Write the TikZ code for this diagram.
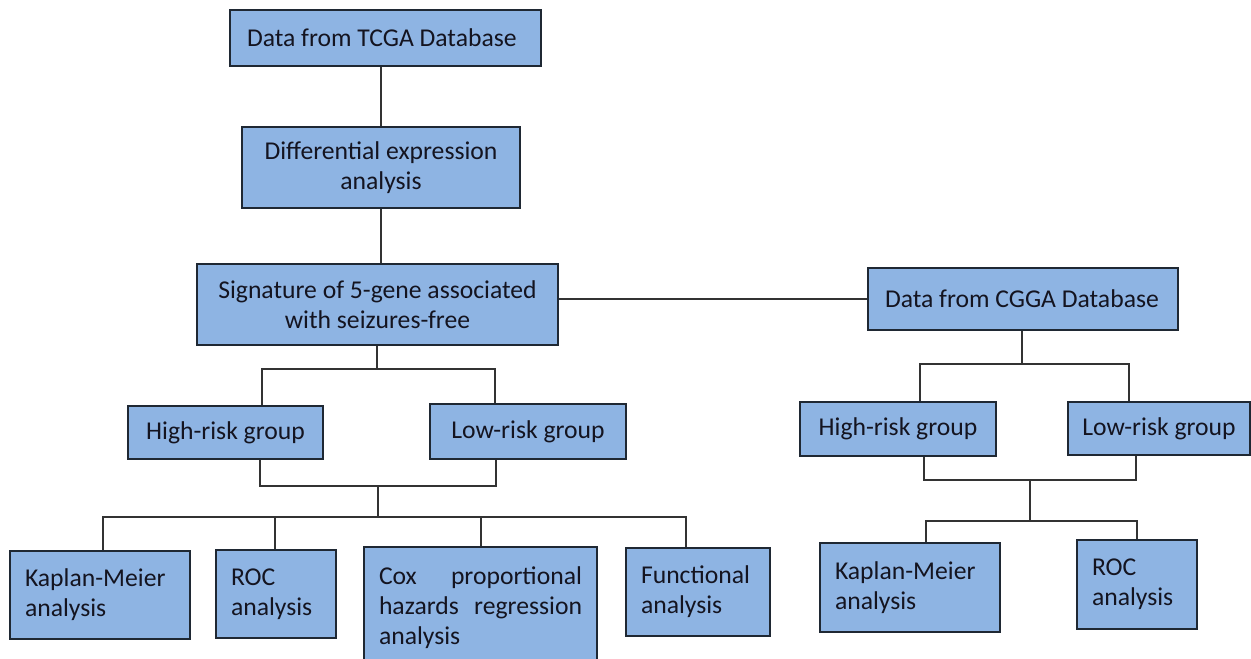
\documentclass[tikz,border=0pt]{standalone}
\usepackage{fontspec}
\setmainfont{Carlito}
\usepackage{xcolor}
\usetikzlibrary{positioning}
\definecolor{boxfill}{HTML}{8EB4E3}
\definecolor{boxline}{HTML}{1F2833}
\definecolor{linkline}{HTML}{333333}
\definecolor{boxtext}{HTML}{141420}
\tikzset{%
	block/.style    = {draw=boxline, line width=1pt, fill=boxfill, rectangle, text=boxtext, font=\fontsize{14.6}{17}\selectfont},
	cblock/.style   = {block, align=center},
	lblock/.style   = {block, align=flush left, inner xsep=0.3cm},
	link/.style     = {draw=linkline, line width=1.1pt},
	waypoint/.style = {coordinate},
}

\begin{document}
\begin{tikzpicture}[x=0.02cm,y=-0.02cm]
	\useasboundingbox (0,0) rectangle (1251,659);
	% left branch
	\node [lblock,text width=5.54cm,minimum height=1.12cm,inner xsep=0.34cm] (tcga) at (385.5,38) {Data from TCGA Database};
	\node [cblock,minimum width=5.56cm,minimum height=1.62cm] (diff) at (381,167.5) {Differential expression\\analysis};
	\node [cblock,minimum width=7.22cm,minimum height=1.62cm] (sig) at (377.5,304.5) {Signature of 5-gene associated\\with seizures-free};
	\node [cblock,minimum width=3.9cm,minimum height=1.06cm] (hiL) at (225.5,432.5) {High-risk group};
	\node [cblock,minimum width=3.92cm,minimum height=1.1cm] (loL) at (528,431.5) {Low-risk group};
	\node [lblock,text width=3.0cm,minimum height=1.76cm] (kmL) at (100,595) {Kaplan-Meier\\analysis};
	\node [lblock,text width=1.8cm,minimum height=1.76cm] (rocL) at (276,594) {ROC\\analysis};
	\node [lblock,text width=4.06cm,minimum height=2.44cm] (cox) at (480.5,608) {Cox\hfill proportional\\hazards\hfill regression\\analysis};
	\node [lblock,text width=2.28cm,minimum height=1.76cm] (fun) at (698,592) {Functional\\analysis};
	% right branch
	\node [lblock,text width=5.52cm,minimum height=1.24cm,inner xsep=0.34cm] (cgga) at (1023,299) {Data from CGGA Database};
	\node [cblock,minimum width=3.92cm,minimum height=1.08cm] (hiR) at (898,429) {High-risk group};
	\node [cblock,minimum width=3.64cm,minimum height=1.06cm] (loR) at (1159,428.5) {Low-risk group};
	\node [lblock,text width=3.0cm,minimum height=1.78cm] (kmR) at (910,587.5) {Kaplan-Meier\\analysis};
	\node [lblock,text width=1.8cm,minimum height=1.78cm] (rocR) at (1137,584.5) {ROC\\analysis};

	% junctions
	\node [waypoint] (s1) at (377,369) {};
	\node [waypoint] (s1l) at (262,369) {};
	\node [waypoint] (s1r) at (495,369) {};
	\node [waypoint] (m1) at (378,486) {};
	\node [waypoint] (m1l) at (260,486) {};
	\node [waypoint] (m1r) at (496,486) {};
	\node [waypoint] (b1) at (378,517) {};
	\node [waypoint] (b1a) at (103,517) {};
	\node [waypoint] (b1b) at (275,517) {};
	\node [waypoint] (b1c) at (481,517) {};
	\node [waypoint] (b1d) at (686,517) {};
	\node [waypoint] (c1) at (1022,364) {};
	\node [waypoint] (c1l) at (920,364) {};
	\node [waypoint] (c1r) at (1129,364) {};
	\node [waypoint] (m2) at (1030,480) {};
	\node [waypoint] (m2l) at (924,480) {};
	\node [waypoint] (m2r) at (1136,480) {};
	\node [waypoint] (b2) at (1030,521) {};
	\node [waypoint] (b2l) at (926,521) {};
	\node [waypoint] (b2r) at (1137,521) {};

	\draw[link] (diff.north |- tcga.south) -- (diff.north);
	\draw[link] (diff.south) -- (diff.south |- sig.north);
	\draw[link] (sig.east |- cgga.west) -- (cgga.west);
	\draw[link] (sig.south -| s1) -- (s1);
	\draw[link] (s1l |- hiL.north) -- (s1l) -- (s1r) -- (s1r |- loL.north);
	\draw[link] (m1l |- hiL.south) -- (m1l) -- (m1r) -- (m1r |- loL.south);
	\draw[link] (m1) -- (b1);
	\draw[link] (b1a |- kmL.north) -- (b1a) -- (b1d) -- (b1d |- fun.north);
	\draw[link] (b1b) -- (b1b |- rocL.north);
	\draw[link] (b1c) -- (b1c |- cox.north);
	\draw[link] (cgga.south -| c1) -- (c1);
	\draw[link] (c1l |- hiR.north) -- (c1l) -- (c1r) -- (c1r |- loR.north);
	\draw[link] (m2l |- hiR.south) -- (m2l) -- (m2r) -- (m2r |- loR.south);
	\draw[link] (m2) -- (b2);
	\draw[link] (b2l |- kmR.north) -- (b2l) -- (b2r) -- (b2r |- rocR.north);
\end{tikzpicture}
\end{document}
